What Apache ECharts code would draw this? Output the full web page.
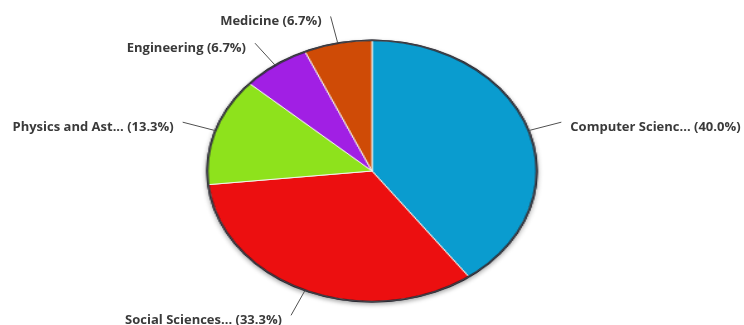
<!DOCTYPE html>
<html>
<head>
<meta charset="utf-8">
<script src="https://cdn.jsdelivr.net/npm/echarts@6/dist/echarts.min.js"></script>
<style>
  html, body { margin: 0; padding: 0; background: #ffffff; }
  #wrap { position: relative; width: 744px; height: 325px; overflow: hidden; }
  #pie, #lab { position: absolute; left: 0; top: 0; width: 744px; height: 325px; }
  #pie { transform: scaleX(1.26); transform-origin: 372px 171px; }
</style>
</head>
<body>
<div id="wrap"><div id="pie"></div><div id="lab"></div></div>
<script>
// ---- data ----
const categories = ['Computer Scienc...', 'Social Sciences...', 'Physics and Ast...', 'Engineering', 'Medicine'];
const values = [6, 5, 2, 1, 1];
const colors = ['#0a9ccf', '#ec0f10', '#8ee21c', '#a11fe4', '#cf4b06'];

// ---- geometry ----
const CX = 372, CY = 171, RY = 131, K = 1.26, RX = RY * K;
const LINE = 27, GAP = 9;

const pieData = categories.map((c, i) => ({ name: c, value: values[i], itemStyle: { color: colors[i] } }));
const total = values.reduce((a, b) => a + b, 0);

const pieChart = echarts.init(document.getElementById('pie'), null, { renderer: 'canvas' });
pieChart.setOption({
  animation: false,
  series: [
    {
      type: 'pie', silent: true, center: [CX, CY], radius: RY + 0.6,
      startAngle: 90, label: { show: false }, labelLine: { show: false },
      data: [{ value: 1, itemStyle: { color: '#2a2a33' } }],
      itemStyle: { shadowBlur: 4, shadowColor: 'rgba(0,0,0,0.35)', shadowOffsetY: 2 }
    },
    {
      type: 'pie', silent: true, center: [CX, CY], radius: RY - 0.4,
      startAngle: 90, clockwise: true,
      label: { show: false }, labelLine: { show: false },
      itemStyle: { borderColor: '#f4f4ee', borderWidth: 1 },
      data: pieData
    },
    {
      type: 'pie', silent: true, center: [CX, CY], radius: [RY - 1.3, RY + 0.6],
      startAngle: 90, label: { show: false }, labelLine: { show: false },
      data: [{ value: 1, itemStyle: { color: 'rgba(25,25,35,0.8)' } }]
    }
  ]
});

const labChart = echarts.init(document.getElementById('lab'), null, { renderer: 'canvas' });
labChart.setOption({
  animation: false,
  series: [{
    type: 'pie', silent: true, center: [CX, CY], radius: RY,
    startAngle: 90, clockwise: true, avoidLabelOverlap: false,
    percentPrecision: 1,
    itemStyle: { color: 'rgba(0,0,0,0)' },
    emphasis: { disabled: true },
    label: {
      show: true, position: 'outside',
      fontFamily: 'Open Sans', fontWeight: 'bold', fontSize: 13, color: '#3a3a3a',
      formatter: p => p.name + ' (' + p.percent.toFixed(1) + '%)'
    },
    labelLine: { show: true, length: 20, length2: 0, lineStyle: { color: '#505050', width: 1 } },
    labelLayout: function (params) {
      const i = params.dataIndex;
      let cum = 0;
      for (let j = 0; j < i; j++) cum += values[j];
      const th = (cum + values[i] / 2) / total * Math.PI * 2;
      const s = Math.sin(th), c = Math.cos(th);
      const p0 = [CX + RX * s, CY - RY * c];
      const p1 = [CX + (RX + LINE * K) * s, CY - (RY + LINE) * c];
      const right = s >= 0;
      return {
        x: p1[0] + (right ? GAP : -GAP),
        y: p1[1] + 5,
        align: right ? 'left' : 'right',
        verticalAlign: 'middle',
        labelLinePoints: [p0, p1, p1]
      };
    },
    data: categories.map((c, i) => ({ name: c, value: values[i] }))
  }]
});
</script>
</body>
</html>
